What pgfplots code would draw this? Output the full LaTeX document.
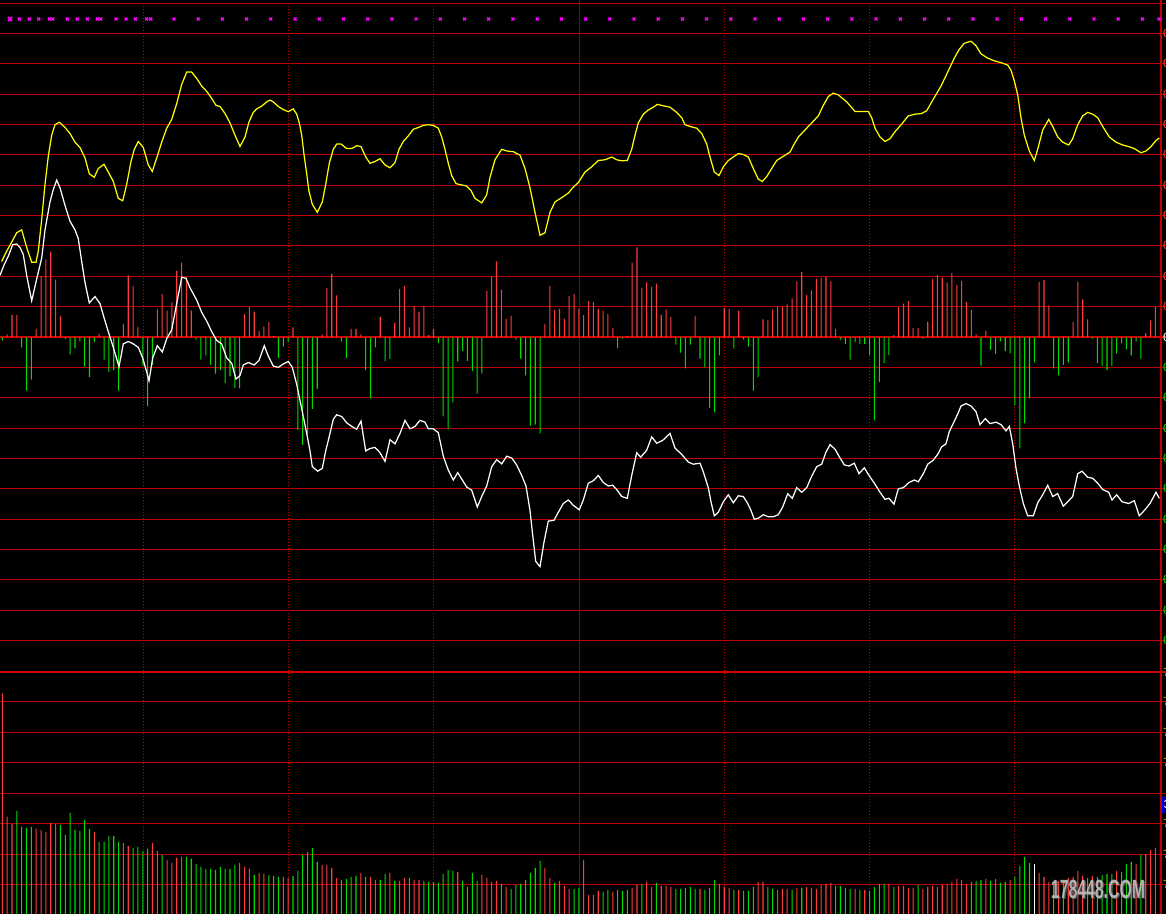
\documentclass[border=0pt]{standalone}
\usepackage{fontspec}
\setmainfont{Liberation Sans}
\setmonofont{Liberation Mono}
\usepackage{pgfplots}
\pgfplotsset{compat=1.18}

\definecolor{gridred}{RGB}{190,0,0}
\definecolor{zerored}{RGB}{215,0,0}
\definecolor{barred}{RGB}{255,60,60}
\definecolor{bargreen}{RGB}{0,220,0}
\definecolor{lineyellow}{RGB}{255,255,0}
\definecolor{markmag}{RGB}{255,0,255}
\definecolor{boxnavy}{RGB}{0,0,140}
\definecolor{labyellow}{RGB}{200,200,0}
\definecolor{wmgray}{RGB}{200,200,200}

\pgfplotsset{
  panel/.style={width=23.32cm, height=18.28cm, scale only axis, anchor=south west, at={(0,0)}, hide axis},
  pix/.style={panel, xmin=0, xmax=1166, ymin=0, ymax=914, y dir=reverse},
  bars/.style={panel, xmin=-0.4747, xmax=240.18},
  stick/.style={ybar, bar width=0.6pt, bar shift=0pt, draw=none, fill=#1},
  hline/.style={gridred, line width=0.567pt},
  vdot/.style={gridred, line width=0.567pt, dash pattern=on 0.567pt off 1.134pt},
}

\begin{document}
\begin{tikzpicture}
\fill[black] (0,0) rectangle (23.32cm,18.28cm);

% grid, in pixel rows counted from the top
\begin{axis}[pix]
\pgfplotsinvokeforeach{3.5,33.5,63.5,94.5,124.5,154.5,185.5,215.5,245.5,276.5,306.5,367.5,397.5,428.5,458.5,488.5,519.5,549.5,579.5,610.5,640.5,701.5,732.5,762.5,793.5,823.5,854.5,884.5}{
  \addplot[hline] coordinates {(0,#1) (1166,#1)};
}
\addplot[zerored, line width=1.134pt] coordinates {(0,337) (1166,337)};
\addplot[zerored, line width=1.134pt] coordinates {(0,672) (1166,672)};
\pgfplotsinvokeforeach{143.5,288.5,433.5,724.5,869.5,1014.5}{
  \addplot[vdot] coordinates {(#1,3.5) (#1,914)};
}
\addplot[gridred!75!black, line width=0.567pt] coordinates {(579.5,0) (579.5,914)};
\end{axis}

% MACD histogram, pixels above the zero line
\begin{axis}[bars, ymin=-576.5, ymax=337.5]
\addplot[stick=barred] coordinates {(1,3) (2,22.7) (3,22.7) (7,8.7) (8,61.3) (9,77.8) (10,85.8) (11,57.8) (12,21.6) (20,3.7) (25,13.6) (26,62) (27,51.5) (28,10.4) (32,28) (33,43.7) (34,26.9) (35,35) (36,66.5) (37,74.9) (38,60.2) (39,26.9) (50,23.4) (51,30.4) (52,25.8) (53,6.6) (54,11.1) (55,15.7) (56,1.6) (60,10.1) (66,3) (67,49.7) (68,63.7) (69,42) (72,8.7) (73,8.7) (74,3) (78,20.6) (81,14.6) (82,48.6) (83,51.5) (84,10.1) (85,31.5) (86,25.8) (87,31.5) (88,2.3) (89,8.7) (100,46.9) (101,60.9) (102,76) (103,47.9) (104,18.8) (105,21.6) (112,13.6) (113,51.5) (114,27.6) (115,28.6) (116,18.8) (117,41.6) (118,43.7) (119,28.6) (120,22.3) (121,36.4) (122,35.7) (123,28.6) (124,26.9) (125,23.4) (126,9.4) (129,1.6) (130,74.9) (131,90) (132,49.7) (133,55) (134,50.8) (135,53.9) (136,22.7) (137,28) (138,20.6) (143,21.6) (149,29.4) (150,28.6) (152,26.9) (157,18.1) (158,17.1) (159,28) (160,31.1) (161,30.4) (162,33.2) (163,39.2) (164,56) (165,65.5) (166,42.7) (167,47.2) (168,58.5) (169,59.5) (170,60.9) (171,56) (172,8.7) (184,2.3) (185,30.4) (186,33.9) (187,36.4) (188,9.4) (189,9.4) (191,15.7) (192,58.5) (193,62.7) (194,59.9) (195,55) (196,64.4) (197,52.5) (198,56.4) (199,35.7) (200,27.6) (201,3) (203,6.9) (214,55.7) (215,57.4) (216,32.2) (221,15.7) (222,55.7) (223,38.1) (224,18.1) (236,4.1) (237,17.1) (238,30.4)};
\addplot[stick=bargreen] coordinates {(0,-2.9) (4,-9.9) (5,-53.1) (6,-42.2) (13,-1.5) (14,-16.9) (15,-11) (16,-4) (17,-29.2) (18,-39.7) (19,-4.7) (21,-22.2) (22,-34.5) (23,-32.7) (24,-53.1) (29,-28.5) (30,-68.9) (31,-27.5) (40,-2.2) (41,-22.2) (42,-18) (43,-27.5) (44,-36.2) (45,-32.7) (46,-45.7) (47,-39) (48,-50.3) (49,-51) (57,-20.5) (58,-9.2) (59,-4.7) (61,-92.5) (62,-107.5) (63,-96.5) (64,-71.5) (65,-51.5) (70,-4) (71,-20.5) (75,-32.7) (76,-60.8) (77,-9.9) (79,-24) (80,-21.5) (90,-5.7) (91,-79) (92,-91.7) (93,-65) (94,-24) (95,-13.4) (96,-23.3) (97,-33.5) (98,-56.2) (99,-36.2) (106,-2.2) (107,-21.2) (108,-38) (109,-88.1) (110,-87.1) (111,-95.9) (127,-10.6) (128,-1.2) (139,-7.1) (140,-15.2) (141,-31) (142,-7.1) (144,-21.2) (145,-29.9) (146,-70.5) (147,-74.8) (148,-18) (151,-11) (153,-2.2) (154,-9.2) (155,-53.1) (156,-39.7) (173,-2.2) (174,-6.4) (175,-22.2) (176,-4.7) (177,-6.4) (178,-6.4) (179,-17.7) (180,-82.9) (181,-44.3) (182,-25.7) (183,-17.7) (190,-1.2) (202,-28.2) (204,-12.4) (205,-16.3) (206,-4) (207,-13.4) (208,-15.9) (209,-67.8) (210,-110.9) (211,-86) (212,-60.8) (213,-25) (217,-31) (218,-38) (219,-27.5) (220,-25) (225,-1.2) (226,-25.7) (227,-28.5) (228,-32.7) (229,-28.5) (230,-15.9) (231,-5.7) (232,-11.7) (233,-18) (234,-4) (235,-21.2)};
\end{axis}

% volume, pixels above the bottom edge
\begin{axis}[bars, ymin=0, ymax=914]
\addplot[stick=barred] coordinates {(0,220.7) (1,97.3) (2,90) (7,85) (8,84) (9,82) (10,91) (11,90) (19,82) (25,71) (26,68) (31,71) (32,63) (34,54) (35,51) (36,56) (37,57) (49,51) (50,47) (51,45) (53,41) (54,40) (58,37) (59,36) (66,49) (67,49) (68,46) (69,36) (74,41) (76,37) (77,34) (80,41) (82,33) (83,36) (85,34) (86,34) (94,42) (99,39) (100,36) (101,32) (102,33) (104,27) (112,46) (113,36) (115,33) (116,28) (117,25) (120,54) (121,19) (122,19) (123,23) (126,22) (130,26) (131,29) (133,32) (134,27) (136,28) (137,28) (138,27) (144,25) (148,30) (149,27) (150,26) (152,24) (156,32) (157,32) (160,24) (161,25) (162,25) (164,26) (166,27) (167,26) (168,25) (169,29) (170,30) (171,31) (176,25) (178,24) (183,30) (185,28) (186,28) (187,26) (188,26) (190,25) (191,27) (192,28) (193,27) (194,29) (195,30) (196,32) (197,35) (198,34) (199,30) (203,35) (205,35) (208,34) (214,41) (215,37) (216,32) (218,33) (220,36) (221,37) (222,43) (223,38) (225,38) (230,43) (234,50) (236,60) (237,64) (238,66)};
\addplot[stick=bargreen] coordinates {(3,103) (4,87) (5,86) (6,87) (12,89) (13,79) (14,101) (15,84) (16,83) (17,94) (18,85) (20,72) (21,72) (22,78) (23,78) (24,72) (27,66) (28,67) (29,63) (30,65) (33,59) (38,57) (39,55) (40,50) (41,47) (42,45) (43,45) (44,44) (45,47) (46,45) (47,45) (48,49) (52,39) (55,39) (56,38) (57,37) (60,38) (61,43) (62,59) (63,62) (64,66) (65,52) (70,34) (71,35) (72,37) (73,38) (75,37) (78,34) (79,40) (81,33) (84,36) (87,33) (88,32) (89,32) (90,31) (91,40) (92,44) (93,43) (95,33) (96,27) (97,41) (98,33) (103,30) (105,25) (106,29) (107,30) (108,34) (109,41) (110,46) (111,53) (114,31) (118,25) (119,26) (124,22) (125,24) (127,24) (128,23) (129,24) (132,30) (135,31) (139,25) (140,25) (141,26) (142,27) (143,25) (145,24) (146,26) (147,34) (151,24) (153,23) (154,23) (155,27) (158,27) (159,25) (163,24) (165,26) (172,28) (173,28) (174,26) (175,25) (177,24) (179,23) (180,27) (181,30) (182,30) (184,27) (189,29) (200,32) (201,33) (202,34) (204,33) (206,31) (207,32) (209,37) (210,48) (211,57) (212,51) (217,30) (219,31) (224,36) (226,37) (227,39) (228,40) (229,40) (231,42) (232,50) (233,52) (235,59) (239,83)};
\addplot[stick=white] coordinates {(213,50)};
\end{axis}

% the two lines, the signal marks and the right border, in pixel rows
\begin{axis}[pix]
\addplot[gridred, line width=0.85pt] coordinates {(1161,0) (1161,914)};
\addplot[lineyellow, line width=0.7pt] coordinates {(1.7,261.5) (6.7,251) (11.7,242.2) (16.7,232.7) (21.7,229.9) (26.7,247.5) (31.7,262.2) (36,262.2) (38.3,251) (41.7,219.4) (45,184.3) (48.3,156.3) (51.7,135.2) (55,124.7) (59.3,122.2) (65,127.5) (70,133.5) (75,142.2) (80,147.5) (85,158) (89.3,173.8) (94.3,177.3) (98.3,168.5) (104,164.3) (108.3,172) (113.3,181.5) (118.3,198.4) (122.7,200.8) (126.7,184.3) (131,161.5) (134.3,149.3) (138.3,141.5) (143.3,147.5) (148.3,165) (152.3,171.4) (156.7,158) (161.7,142.2) (166.7,128.2) (171.7,119.4) (176.7,103.7) (181.7,84.4) (186.7,72.1) (191.7,72.1) (196.7,78.4) (201.7,86.1) (206.7,91.4) (211.7,98.4) (216,105.4) (220,106.5) (225,113.5) (230,123) (235,135.2) (240,146.5) (245,137) (249,121.9) (253.3,112.4) (256.7,108.9) (261.7,106.1) (266.7,101.9) (270,100.1) (273.3,101.9) (278.3,106.5) (283.3,109.6) (288.3,111.7) (293.3,108.9) (296.7,114.2) (299.3,123) (301.7,135.2) (304,154.5) (306.7,173.8) (309,191.3) (312.3,204.3) (317.3,212.4) (322.3,201.9) (325.7,184.3) (329.3,163.3) (333.3,149.3) (336.7,144) (341,144) (346.7,148.6) (351.7,148.6) (356.7,145.7) (361,146.5) (365.7,157) (370,163.3) (375,161.5) (380,158.7) (385,165) (390,167.8) (395,162.6) (399,149.3) (403.3,141.5) (408.3,135.9) (413.3,129.3) (418.3,127.5) (423.3,125.4) (428.3,124.7) (433.3,125.4) (438.3,128.2) (441.7,137) (445,149.3) (448.3,163.3) (451.7,175.6) (456,183.6) (461.7,185) (466.7,186.1) (471,190.6) (475,198.4) (481.7,202.9) (486.7,194.9) (490,177.3) (495,159.8) (501.7,149.3) (506.7,151) (513.3,151.7) (520,155.2) (525,168.5) (530,187.8) (535,212.4) (540,235.2) (545,232.7) (550,212.4) (555,201.9) (561.7,197.7) (568.3,193.1) (573.3,187.1) (578.3,182.6) (585,172) (591.7,166.8) (598.3,160.5) (605,159.8) (611.7,157) (616.7,159.8) (621.7,160.8) (627.3,160.5) (631.7,149.3) (635,135.2) (638.3,122.9) (643.3,114.2) (648.3,110) (653.3,107.2) (657.3,104.4) (663.3,105.8) (670,107.2) (676.7,112.4) (681.7,117.7) (685,124.7) (690,126.5) (696.7,128.2) (701.7,133.5) (706.7,144) (709.3,154.5) (714.3,172) (719,175.6) (723.3,166.8) (728.3,160.5) (733.3,157) (738.3,153.5) (743.3,154.5) (748.3,157) (753.3,168.5) (758.3,179.1) (762.3,181.5) (766.7,176.6) (771.7,168.5) (776.7,160.5) (783.3,156.3) (790,152.1) (793.3,145.7) (798.3,137) (805,130) (811.7,122.9) (818.3,115.9) (823.3,105.4) (828.3,96.6) (833.3,93.1) (838.3,94.9) (846.7,101.9) (855,111.4) (861.7,111.4) (868.3,111.4) (871.7,117.7) (875,128.2) (880,137) (885,141.5) (890,138.7) (895,131.7) (901.7,124) (908.3,115.9) (915,114.2) (921.7,113.5) (926.7,110.7) (932.7,100.2) (941,86.1) (947.7,72.1) (954.3,58.1) (959.3,49.3) (964.3,43.3) (971,41.2) (976,45.8) (981,53.9) (987.7,58.1) (994.3,60.9) (1001,62.6) (1007.7,65.1) (1011,70.3) (1014.3,80.9) (1017.7,94.9) (1021,117.7) (1024.3,135.2) (1029.3,151) (1034.3,160.5) (1037.7,149.3) (1042.7,130) (1048.7,119.4) (1052.7,126.5) (1057.7,137) (1062.7,142.2) (1068.7,145) (1072.7,138.7) (1077.7,124.7) (1082.7,115.9) (1087.7,112.4) (1092.7,114.2) (1097.7,117.7) (1102.7,126.5) (1109.3,137) (1116,142.2) (1122.7,145) (1129.3,146.8) (1134.3,148.6) (1141,152.8) (1146,151) (1151,146.5) (1156,140.5) (1159.3,138)};
\addplot[white, line width=0.7pt] coordinates {(0,275.5) (4,265) (8.3,256.2) (12.7,244.7) (16.7,244) (20,247.5) (23.3,254.5) (26.7,275.5) (31.7,300.8) (36.7,279) (41.7,258) (45,229.9) (50,201.9) (53.3,189.6) (56.7,180.1) (60,187.8) (65,205.4) (70,221.2) (75,229.9) (78.3,238.7) (81.7,261.5) (85,282.5) (89.3,302.9) (95,296.6) (100,303.6) (104,317.6) (108.3,331.7) (113.3,347.4) (119,366.7) (123.3,343.9) (128.3,341.5) (133.3,343.9) (138.3,347.4) (142.7,358) (146.7,372) (149,380.8) (152.7,358) (157.3,345.7) (162.3,352) (166.7,338.7) (171.7,329.9) (176.7,303.6) (181.7,277.3) (186,278.3) (190,287.8) (196.7,300.1) (201.7,312.4) (206.7,321.1) (211.7,331.7) (216.7,340.4) (221.7,343.9) (226.7,358) (231.7,363.2) (236,379) (240,375.5) (243.3,365) (248.3,362.5) (254.3,365) (259,360.4) (264.3,345.7) (268.3,356.2) (273.3,366) (278.3,367.4) (283.3,363.9) (288.3,361.5) (292.3,367.4) (296.7,384.3) (301.7,408.8) (306.7,433.4) (310,450.9) (312.3,466.7) (317.7,471.2) (322.3,468.4) (325.7,450.9) (330,433.4) (333.3,419.3) (336.7,414.8) (341.7,416.5) (346.7,422.8) (351.7,426.4) (356.7,429.2) (361,421.1) (365.7,450.9) (370,448.5) (375,447.4) (380,452.7) (385,461.4) (390,439.7) (395,443.9) (400,433.4) (405,420.4) (410,428.8) (415,426.4) (420,420.4) (425,422.2) (428.3,428.8) (433.3,428.8) (438.3,432.7) (443.3,456.2) (448.3,470.2) (453.3,480) (457.7,472.6) (462.3,480) (466.7,487) (471.7,490.2) (477.3,507) (481.7,496.5) (486.7,486) (491.7,466.7) (496.7,459.7) (501.7,463.9) (506.7,456.2) (511.7,458) (516.7,465) (521.7,475.5) (526,486) (530,510.5) (532.7,535.1) (535.7,561.4) (540,566.7) (544,542.1) (548.3,521.1) (554,520.3) (558.3,512.3) (563.3,503.5) (568.3,500) (573.3,505.3) (579.3,509.8) (583.3,500) (588.3,483.2) (593.3,480.7) (598.3,475.5) (603.3,482.5) (608.3,486) (612.7,485.3) (616.7,489.5) (621.7,496.5) (627.3,498.3) (631.7,475.5) (636.7,452.7) (640.7,457.2) (646.7,450.2) (651.7,436.9) (656.7,443.2) (662.7,440.4) (670,433.4) (675,448.1) (681.7,454.4) (688.3,462.1) (693.3,464.2) (700,463.2) (703.3,471.9) (708.3,487.7) (711,501.8) (714.3,515.8) (718.3,512.3) (723.3,501.8) (728.3,494.8) (733.3,502.8) (738.3,495.8) (743.3,496.5) (747.7,503.5) (751,510.5) (754.3,519.3) (758.3,518.2) (763.3,514.7) (768.3,516.8) (773.3,516.8) (778.3,514.7) (782.7,507) (787.7,493.7) (792.3,498.3) (796.7,487.7) (801.7,492.3) (806.7,487.7) (811.7,476.2) (816.7,466.7) (821.7,464.2) (825.7,452.7) (830,444.6) (835,449.2) (840,457.9) (844.3,464.9) (849,466) (854.3,463.2) (859,473.7) (864.3,467.8) (869,475.5) (875,484.2) (880,492.3) (885,499.3) (889,498.3) (894,504.2) (898.3,488.8) (903.3,487.7) (909,482.5) (914.3,480) (918.3,481.8) (923.3,473.7) (927.7,464.2) (932.7,460.7) (937.7,454.4) (941.7,446.7) (946,443.9) (949.3,431.6) (952.7,424.6) (957.7,414.1) (961,406) (966,403.6) (971,406) (976,411.6) (980,424.6) (985.3,418.6) (990,423.6) (996,422.2) (1001,424.6) (1006,430.9) (1009.3,426.4) (1012.7,443.9) (1016,468.4) (1019.3,486) (1023.3,503.5) (1027.7,515.8) (1033.3,515.8) (1037.7,502.8) (1042.7,494.8) (1047.7,485.3) (1052.7,496.5) (1057.7,493.7) (1063.3,506.3) (1067.7,501.8) (1072.7,496.5) (1077.7,473.7) (1082,471.2) (1087.7,477.2) (1092.7,478.3) (1097.7,483.2) (1102.7,489.5) (1108.7,492.3) (1112,500) (1116.7,494.8) (1122,501.8) (1128.7,503.5) (1134.3,500.7) (1139.3,515.8) (1144.3,510.5) (1150,503.5) (1156,492.3) (1159.3,498.3)};
\addplot[only marks, mark=x, mark size=1.7pt, markmag, line width=0.9pt] coordinates {(10,19)};
\addplot[only marks, mark=x, mark size=1.2pt, markmag, line width=0.7pt] coordinates {(19.3,19) (29.3,19) (38.7,19) (49.3,19) (52.7,19) (67.3,19) (77.3,19) (87.3,19) (97.3,19) (100.7,19) (116,19) (126,19) (135.3,19) (146.7,19) (150.7,19) (174,19) (198.2,19) (222.4,19) (246.6,19) (270.8,19) (295.1,19) (319.3,19) (343.5,19) (367.7,19) (391.9,19) (416.1,19) (440.3,19) (464.5,19) (488.7,19) (512.9,19) (537.2,19) (561.4,19) (585.6,19) (609.8,19) (634,19) (658.2,19) (682.4,19) (706.6,19) (730.8,19) (755,19) (779.3,19) (803.5,19) (827.7,19) (851.9,19) (876.1,19) (900.3,19) (924.5,19) (948.7,19) (972.9,19) (997.1,19) (1021.4,19) (1045.6,19) (1069.8,19) (1094,19) (1118.2,19) (1142.4,19) (1159,19)};
\end{axis}

% scale labels cut off by the right edge, the price box and the watermark
\begin{scope}[x=0.2mm, y=-0.2mm, yshift=18.28cm]
\foreach \yy in {33.5,63.5,94.5,124.5,154.5,185.5,215.5,245.5,276.5,306.5}
  \node[anchor=west, inner sep=0pt, text=barred, font=\ttfamily\fontsize{7}{7}\selectfont] at (1162.5,\yy) {0.00};
\node[anchor=west, inner sep=0pt, text=white, font=\ttfamily\fontsize{7}{7}\selectfont] at (1162.5,337) {0.00};
\foreach \yy in {367.5,397.5,428.5,458.5,488.5,519.5,549.5,579.5,610.5,640.5}
  \node[anchor=west, inner sep=0pt, text=bargreen, font=\ttfamily\fontsize{7}{7}\selectfont] at (1162.5,\yy) {0.00};
\foreach \yy in {672,701.5,732.5,762.5,823.5,854.5,884.5}
  \node[anchor=west, inner sep=0pt, text=labyellow, font=\ttfamily\fontsize{7}{7}\selectfont] at (1162.5,\yy) {700};
\filldraw[fill=boxnavy, draw=blue, line width=0.5pt] (1162,797) rectangle (1180,812);
\node[anchor=west, inner sep=0pt, text=white, font=\ttfamily\fontsize{7}{7}\selectfont] at (1163,804.5) {3};
\node[text=black!60, opacity=0.7, font=\bfseries\fontsize{15}{16}\selectfont, xscale=0.6] at (1099.5,890.5) {178448.COM};
\node[text=wmgray, opacity=0.85, font=\bfseries\fontsize{15}{16}\selectfont, xscale=0.6] at (1098,889) {178448.COM};
\end{scope}

\pgfresetboundingbox
\useasboundingbox (0,0) rectangle (23.32cm,18.28cm);
\end{tikzpicture}
\end{document}
